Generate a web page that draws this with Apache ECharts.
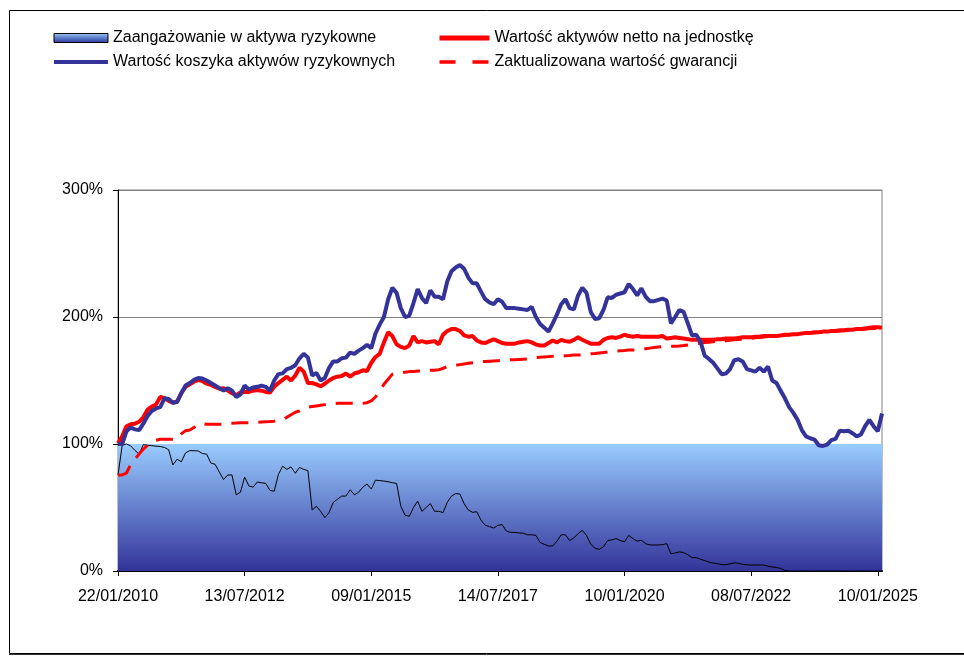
<!DOCTYPE html>
<html>
<head>
<meta charset="utf-8">
<script src="https://cdn.jsdelivr.net/npm/echarts@6/dist/echarts.min.js"></script>
<style>
html,body{margin:0;padding:0;background:#fff;}
#chart{width:964px;height:656px;}
</style>
</head>
<body>
<div id="chart"></div>
<script>
// Tick labels shown every 30 observations
const tickLabels = ['22/01/2010','13/07/2012','09/01/2015','14/07/2017','10/01/2020','08/07/2022','10/01/2025'];
const tickStep = 30;

// Series values (%), one per observation (182 observations)
const basketValue = [
100,100,110,113,111.5,111,116,122,126,128,129,136,135.5,132.5,133,140,146,148,150.5,152,
151.5,150,148,146,144,142,144,142,137,139,146,143,144.5,145,146,145,142,150,155,155.6,
159,160,162,167.5,171,168,154,156,150,152,160,165,165,167.5,168,172,171,173.5,175.5,178,
175.5,187,194,200,214,223,219,207,200,201,211,222,215,211,221,216,216,214,228,236,
239,241,238,231,226.5,226.5,220,214,211.5,210,214,212,207,207,207,206.5,206,205.5,208,200,194.5,
191.5,188.5,195,202,210,214,207,206,217,223,219,204,198.5,199,205.5,215.5,215,217.5,218.5,219.5,
226,222,217,222.6,216,212.5,212.5,213.5,214.5,213,195,200,205.5,204,195,185.5,186,180.5,169.5,167,
164,159.5,155,155.5,159,166,166.7,165,159,158,157,160,157,161,150,148,142,136,129,124.5,
119,111,106,104.5,103.5,99,98.5,99.5,103,104,110.5,110,110.5,108.5,106,107.5,114,119,114,110,
124];

const navValue = [
100.5,106,114,115.5,116,117.5,121,127,129.5,131,137,136,134,132.5,133.5,140,145,147,149,150.5,
149.5,147.5,146.5,145,143.5,144,142,140,138.5,140.5,141,141,142,142.5,142,141,140.5,145,148,150.5,
153,150,154,160,157,148,148,147,145.5,147.5,150,152,153,153.5,155.5,153,155.5,156.5,158,157.5,
164,168.5,171,180,188,185,178.5,176.5,175.5,177.5,185,180,181,180,180.5,181,178.5,186,189,190.5,
190.5,189,185.5,184.5,185,181.5,180,179.5,181,182.5,181,179.5,179,179,179,180,180.5,181,180,178.5,177.5,
177.5,179.5,181.5,180,182,181,180.5,182,184,182,180.5,179,179,179,182,183.5,184,183.5,184.5,186,
185,184.5,185,184.5,184.5,184.5,184.5,184.5,185,183,183.5,184,183.5,183,182.5,182,182,182,182,182,
182,182.5,182.5,183,183,183,183.5,184,184,184,184.5,184.5,185,185,185,185,185.5,186,186,186.5,
186.5,187,187.5,187.5,188,188,188.5,188.5,189,189,189.5,189.5,190,190,190.5,190.5,191,191.5,192,192,
191.5];

const guaranteeValue = [
75.6,75.6,77,84,88,92,96,99,101,103,103.7,103.7,103.7,103.7,104,108,110.5,111,113,115.7,
116,115.5,115.5,115.5,115.5,115.7,116,116.3,116.5,116.8,116.8,116.8,117,117,117.3,117.5,117.7,118,118.5,119,
121,123,125,126,128,129,129.5,130,130.5,131,131.5,131.8,132,132,132,132,132,132,132,132.5,
134,137,142,147,151,155,155.5,156,156.5,157,157,157.5,157.5,157.5,158,158,158.5,159.5,161,161.5,
162,162.5,163,163.5,164,164.5,165,165,165.2,165.4,165.6,165.8,166,166.3,166.3,166.6,166.8,167,167.5,168,168.3,
168.6,168.8,169,169,169.2,169.5,169.7,170,170,170.2,170.5,171,171.3,171.7,172,172.5,172.7,173,173.5,173.7,
174,174,174.2,174.5,175,175.5,176,176.3,176.6,177,177,177,177.2,177.5,178,178.5,179,179.5,180,180.2,
180.5,180.8,181,181.3,181.6,182,182.3,182.6,183,183.3,183.6,184,184.3,184.6,185,185.2,185.5,185.7,186,186.2,
186.5,186.7,187,187.2,187.5,187.7,188,188.2,188.5,188.7,189,189.2,189.5,189.7,190,190.2,190.5,190.7,191,191.2,
191.5];

const exposureValue = [
75.6,99,100,98.5,95,92,99.5,99,98.7,98.3,98,97.3,95.5,83.5,88,86,93,94.8,94.7,94.5,
92.5,92,85,84,78,72,75.6,75.6,60,62,74,67,66,70,69.5,69,63.5,62.8,76,82.5,
80,82,77,81.5,80,79,48,51,47,42,46,54,56.5,59,59,64,60,62,66,68.5,
64.5,71.5,71.2,70.8,70.3,69.5,69,51,44,43,50,55,47,50,53,47,47,46,54,59,
61,60.6,53,48,46.2,46.7,40,36,35,33.8,36,36.5,31.5,30.4,30.4,30,29.8,28.5,28.5,28,22.5,
21,19.7,19.7,23.5,28.5,28.5,24,26,29.5,32,28,21,18,17,19,24,24.5,25.5,24,23,
28,25.5,23.5,24.2,21.5,20.5,20.5,20.5,20.7,21.6,13.5,14.2,15,14.5,12.8,10.5,10.5,9.3,8.2,7,
6.2,5.8,5,5,5.6,6.5,6,5.2,4.8,4.7,4.7,4.7,4.7,3.8,3.2,2.8,2,0.5,0,0,
0,0,0,0,0,0,0,0,0,0,0,0,0,0,0,0,0,0,0,0,
0];

const seriesNames = [
  'Zaangażowanie w aktywa ryzykowne',
  'Wartość koszyka aktywów ryzykownych',
  'Wartość aktywów netto na jednostkę',
  'Zaktualizowana wartość gwarancji'
];

const categories = basketValue.map((_, i) => i);

const chart = echarts.init(document.getElementById('chart'), null, {renderer: 'canvas'});
const FONT = 'Liberation Sans, Arial, sans-serif';

const areaGradient = new echarts.graphic.LinearGradient(0, 0, 0, 1, [
  {offset: 0, color: '#99CCFF'},
  {offset: 1, color: '#333399'}
]);
const legendGradient = new echarts.graphic.LinearGradient(0, 0, 0, 1, [
  {offset: 0, color: '#9ECBF5'},
  {offset: 0.5, color: '#5A7CC8'},
  {offset: 1, color: '#333399'}
]);
const noSymbol = {color: 'rgba(0,0,0,0)', borderWidth: 0, opacity: 0};
const isTick = (idx) => idx % tickStep === 0;

const option = {
  animation: false,
  backgroundColor: '#ffffff',
  graphic: [{
    type: 'polyline',
    shape: {points: [[964, 10.5], [9.5, 10.5], [9.5, 653.5], [964, 653.5]]},
    style: {fill: 'none', stroke: '#000', lineWidth: 1},
    silent: true, z: -10
  }, {
    type: 'line',
    shape: {x1: 9, y1: 654.5, x2: 964, y2: 654.5},
    style: {stroke: '#333', lineWidth: 1},
    silent: true, z: -10
  }],
  legend: [{
    left: 52, top: 30, orient: 'vertical', padding: 0,
    itemWidth: 54, itemHeight: 9, itemGap: 8,
    textStyle: {fontFamily: FONT, fontSize: 16, color: '#000'},
    data: [
      {name: seriesNames[0], icon: 'rect', itemStyle: {color: legendGradient, borderColor: '#000', borderWidth: 1}},
      {name: seriesNames[1], itemStyle: noSymbol, lineStyle: {width: 4, color: '#333399'}}
    ],
    selectedMode: false
  }, {
    left: 437, top: 30, orient: 'vertical', padding: 0,
    itemWidth: 50, itemHeight: 9, itemGap: 8,
    textStyle: {fontFamily: FONT, fontSize: 16, color: '#000'},
    data: [
      {name: seriesNames[2], itemStyle: noSymbol, lineStyle: {width: 5, color: '#FF0000'}},
      {name: seriesNames[3], itemStyle: noSymbol, lineStyle: {width: 3.5, color: '#FF0000', type: [16, 17]}}
    ],
    selectedMode: false
  }],
  grid: {
    left: 118, right: 82, top: 190, bottom: 85,
    show: true, borderColor: '#808080', borderWidth: 1, backgroundColor: 'transparent'
  },
  xAxis: {
    type: 'category',
    data: categories,
    boundaryGap: false,
    axisLine: {lineStyle: {color: '#000', width: 2}},
    axisTick: {show: true, interval: isTick, length: 5, lineStyle: {color: '#000'}},
    axisLabel: {
      interval: isTick, margin: 18,
      fontFamily: FONT, fontSize: 16, color: '#000',
      formatter: (v, idx) => (idx % tickStep === 0 ? (tickLabels[idx / tickStep] || '') : '')
    },
    splitLine: {show: false}
  },
  yAxis: {
    type: 'value', min: 0, max: 300, interval: 100,
    axisLine: {show: true, lineStyle: {color: '#000', width: 1}},
    axisTick: {show: true, length: 5, lineStyle: {color: '#000'}},
    axisLabel: {margin: 15, fontFamily: FONT, fontSize: 16, color: '#000', formatter: '{value}%'},
    splitLine: {show: true, lineStyle: {color: '#808080', width: 1}}
  },
  series: [{
    name: seriesNames[0],
    type: 'line',
    data: exposureValue,
    showSymbol: false, symbol: 'none',
    lineStyle: {color: '#000', width: 1},
    itemStyle: {color: '#000'},
    z: 3,
    markArea: {
      silent: true,
      itemStyle: {color: areaGradient, opacity: 1},
      data: [[{yAxis: 0}, {yAxis: 100}]]
    }
  }, {
    name: seriesNames[2],
    type: 'line',
    data: navValue,
    showSymbol: false, symbol: 'none',
    lineStyle: {color: '#FF0000', width: 4},
    itemStyle: {color: '#FF0000'},
    z: 4
  }, {
    name: seriesNames[3],
    type: 'line',
    data: guaranteeValue,
    showSymbol: false, symbol: 'none',
    lineStyle: {color: '#FF0000', width: 3, type: [17, 10]},
    itemStyle: {color: '#FF0000'},
    z: 5
  }, {
    name: seriesNames[1],
    type: 'line',
    data: basketValue,
    showSymbol: false, symbol: 'none',
    lineStyle: {color: '#333399', width: 4},
    itemStyle: {color: '#333399'},
    z: 6
  }]
};
chart.setOption(option);
</script>
</body>
</html>
